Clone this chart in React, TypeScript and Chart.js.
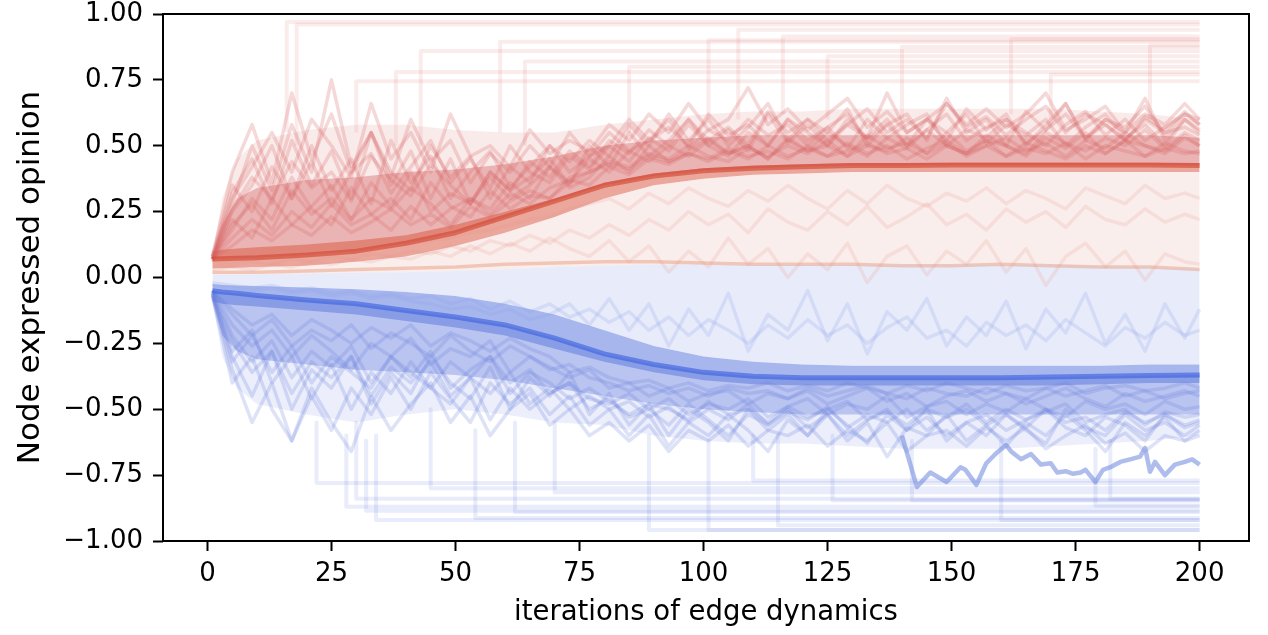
import React, { useEffect, useRef } from "react";
import { Chart, registerables } from "chart.js";
Chart.register(...registerables);

// ---------- axis ticks ----------
const xTicks = [0, 25, 50, 75, 100, 125, 150, 175, 200];
const yTicks = [-1, -0.75, -0.5, -0.25, 0, 0.25, 0.5, 0.75, 1];

// ---------- envelopes of the line bundles (iteration grid) ----------
const envX = [1, 3, 6, 10, 20, 30, 40, 50, 60, 70, 80, 90, 100, 110, 120, 130, 140, 150, 160, 170, 180, 190, 200];
const redOuterTop = [0.08, 0.3, 0.45, 0.52, 0.56, 0.58, 0.58, 0.56, 0.55, 0.55, 0.58, 0.6, 0.62, 0.63, 0.63, 0.64, 0.64, 0.64, 0.64, 0.64, 0.63, 0.62, 0.6];
const redInnerTop = [0.08, 0.2, 0.3, 0.34, 0.37, 0.38, 0.4, 0.41, 0.43, 0.46, 0.5, 0.52, 0.53, 0.54, 0.54, 0.54, 0.54, 0.54, 0.54, 0.54, 0.54, 0.54, 0.53];
const redBandTop = [0.1, 0.105, 0.11, 0.115, 0.125, 0.14, 0.16, 0.2, 0.25, 0.3, 0.36, 0.395, 0.415, 0.425, 0.43, 0.435, 0.435, 0.435, 0.435, 0.435, 0.435, 0.435, 0.435];
const redCore = [0.07, 0.071, 0.073, 0.075, 0.085, 0.1, 0.13, 0.17, 0.23, 0.29, 0.35, 0.385, 0.405, 0.415, 0.42, 0.425, 0.425, 0.427, 0.427, 0.427, 0.427, 0.427, 0.425];
const redBandBot = [0.035, 0.035, 0.037, 0.04, 0.045, 0.06, 0.08, 0.12, 0.17, 0.23, 0.3, 0.35, 0.375, 0.39, 0.395, 0.4, 0.4, 0.4, 0.4, 0.4, 0.4, 0.4, 0.4];
const midLine = [0.01, 0.01, 0.01, 0.012, 0.015, 0.018, 0.02, 0.025, 0.03, 0.04, 0.045, 0.05, 0.05, 0.05, 0.05, 0.05, 0.05, 0.05, 0.05, 0.05, 0.045, 0.04, 0.035];
const blueBandTop = [-0.025, -0.028, -0.03, -0.032, -0.038, -0.045, -0.055, -0.07, -0.1, -0.14, -0.2, -0.26, -0.3, -0.32, -0.33, -0.335, -0.335, -0.335, -0.335, -0.335, -0.335, -0.33, -0.33];
const blueCore = [-0.05, -0.055, -0.06, -0.068, -0.085, -0.1, -0.125, -0.15, -0.18, -0.23, -0.29, -0.33, -0.36, -0.375, -0.38, -0.38, -0.38, -0.38, -0.38, -0.378, -0.375, -0.372, -0.37];
const blueBandBot = [-0.09, -0.1, -0.105, -0.11, -0.125, -0.14, -0.165, -0.19, -0.22, -0.27, -0.32, -0.36, -0.39, -0.405, -0.41, -0.41, -0.41, -0.41, -0.41, -0.41, -0.405, -0.4, -0.4];
const blueInnerBot = [-0.09, -0.22, -0.28, -0.31, -0.33, -0.35, -0.36, -0.37, -0.39, -0.42, -0.45, -0.48, -0.5, -0.51, -0.52, -0.52, -0.52, -0.52, -0.52, -0.52, -0.52, -0.52, -0.52];
const blueOuterBot = [-0.09, -0.3, -0.42, -0.48, -0.52, -0.55, -0.52, -0.5, -0.52, -0.55, -0.56, -0.6, -0.62, -0.63, -0.63, -0.64, -0.65, -0.65, -0.65, -0.64, -0.63, -0.62, -0.6];
const neutralLine = [0.02, 0.02, 0.02, 0.02, 0.025, 0.03, 0.035, 0.04, 0.05, 0.055, 0.06, 0.06, 0.055, 0.05, 0.05, 0.05, 0.045, 0.045, 0.05, 0.045, 0.04, 0.04, 0.03];

// ---------- individual node trajectories (sampled every 4 iterations) ----------
const X4 = [1, 5, 9, 13, 17, 21, 25, 29, 33, 37, 41, 45, 49, 53, 57, 61, 65, 69, 73, 77, 81, 85, 89, 93, 97, 101, 105, 109, 113, 117, 121, 125, 129, 133, 137, 141, 145, 149, 153, 157, 161, 165, 169, 173, 177, 181, 185, 189, 193, 197, 200];

const red1 = [0.07, 0.32, 0.45, 0.28, 0.52, 0.35, 0.48, 0.3, 0.55, 0.4, 0.33, 0.5, 0.38, 0.46, 0.3, 0.42, 0.36, 0.5, 0.44, 0.52, 0.46, 0.58, 0.5, 0.62, 0.52, 0.6, 0.5, 0.57, 0.66, 0.52, 0.6, 0.55, 0.64, 0.5, 0.58, 0.62, 0.52, 0.68, 0.55, 0.6, 0.5, 0.63, 0.56, 0.66, 0.52, 0.6, 0.57, 0.65, 0.54, 0.62, 0.58];
const red2 = [0.07, 0.2, 0.28, 0.18, 0.33, 0.24, 0.3, 0.22, 0.36, 0.27, 0.4, 0.25, 0.32, 0.28, 0.38, 0.3, 0.35, 0.42, 0.36, 0.45, 0.4, 0.48, 0.44, 0.5, 0.46, 0.52, 0.47, 0.5, 0.45, 0.53, 0.48, 0.5, 0.46, 0.54, 0.49, 0.51, 0.47, 0.55, 0.48, 0.52, 0.5, 0.46, 0.53, 0.49, 0.55, 0.47, 0.52, 0.5, 0.48, 0.54, 0.5];
const red3 = [0.08, 0.4, 0.58, 0.36, 0.7, 0.45, 0.62, 0.4, 0.55, 0.35, 0.48, 0.3, 0.45, 0.28, 0.4, 0.33, 0.38, 0.45, 0.35, 0.5, 0.42, 0.55, 0.46, 0.52, 0.6, 0.5, 0.56, 0.48, 0.62, 0.51, 0.58, 0.5, 0.6, 0.53, 0.7, 0.55, 0.6, 0.52, 0.64, 0.56, 0.62, 0.5, 0.58, 0.66, 0.53, 0.6, 0.55, 0.68, 0.52, 0.6, 0.56];
const red4 = [0.07, 0.15, 0.22, 0.16, 0.25, 0.19, 0.28, 0.2, 0.24, 0.18, 0.27, 0.2, 0.26, 0.3, 0.24, 0.32, 0.28, 0.34, 0.37, 0.35, 0.42, 0.39, 0.45, 0.43, 0.47, 0.44, 0.48, 0.45, 0.5, 0.46, 0.49, 0.46, 0.51, 0.47, 0.5, 0.45, 0.49, 0.52, 0.47, 0.5, 0.46, 0.51, 0.48, 0.45, 0.5, 0.47, 0.52, 0.46, 0.49, 0.47, 0.48];
const red5 = [0.06, 0.25, 0.35, 0.5, 0.3, 0.44, 0.27, 0.4, 0.47, 0.32, 0.42, 0.52, 0.36, 0.45, 0.34, 0.5, 0.4, 0.36, 0.46, 0.41, 0.5, 0.44, 0.53, 0.48, 0.58, 0.5, 0.46, 0.55, 0.5, 0.6, 0.52, 0.57, 0.49, 0.6, 0.53, 0.58, 0.62, 0.5, 0.56, 0.53, 0.6, 0.55, 0.5, 0.58, 0.63, 0.54, 0.6, 0.52, 0.57, 0.62, 0.6];
const red6 = [0.07, 0.18, 0.3, 0.22, 0.38, 0.26, 0.2, 0.34, 0.24, 0.3, 0.22, 0.36, 0.27, 0.23, 0.33, 0.26, 0.31, 0.3, 0.38, 0.4, 0.44, 0.42, 0.47, 0.45, 0.5, 0.46, 0.44, 0.49, 0.46, 0.5, 0.47, 0.52, 0.46, 0.5, 0.48, 0.53, 0.47, 0.51, 0.46, 0.5, 0.53, 0.48, 0.51, 0.46, 0.52, 0.49, 0.55, 0.5, 0.47, 0.53, 0.5];
const red7 = [0.08, 0.3, 0.42, 0.55, 0.4, 0.6, 0.5, 0.38, 0.66, 0.45, 0.55, 0.4, 0.62, 0.46, 0.5, 0.42, 0.56, 0.47, 0.52, 0.48, 0.58, 0.52, 0.62, 0.55, 0.66, 0.56, 0.6, 0.72, 0.58, 0.64, 0.56, 0.62, 0.68, 0.57, 0.63, 0.55, 0.6, 0.66, 0.58, 0.64, 0.57, 0.62, 0.7, 0.56, 0.6, 0.65, 0.55, 0.62, 0.58, 0.66, 0.6];
const red8 = [0.07, 0.22, 0.15, 0.3, 0.2, 0.27, 0.35, 0.22, 0.3, 0.26, 0.34, 0.28, 0.2, 0.3, 0.26, 0.36, 0.3, 0.42, 0.34, 0.38, 0.46, 0.4, 0.5, 0.44, 0.48, 0.53, 0.47, 0.5, 0.45, 0.52, 0.48, 0.55, 0.5, 0.46, 0.53, 0.49, 0.56, 0.5, 0.47, 0.54, 0.5, 0.47, 0.55, 0.51, 0.48, 0.53, 0.5, 0.56, 0.49, 0.55, 0.52];
const red9 = [0.07, 0.26, 0.38, 0.3, 0.44, 0.34, 0.4, 0.29, 0.46, 0.37, 0.31, 0.43, 0.35, 0.28, 0.4, 0.33, 0.44, 0.38, 0.48, 0.42, 0.52, 0.47, 0.56, 0.5, 0.6, 0.52, 0.57, 0.5, 0.63, 0.55, 0.6, 0.52, 0.58, 0.64, 0.55, 0.6, 0.53, 0.66, 0.57, 0.61, 0.54, 0.6, 0.65, 0.55, 0.62, 0.58, 0.52, 0.61, 0.56, 0.63, 0.58];
const red10 = [0.07, 0.12, 0.18, 0.14, 0.2, 0.16, 0.23, 0.17, 0.21, 0.26, 0.2, 0.24, 0.19, 0.27, 0.23, 0.29, 0.33, 0.3, 0.36, 0.4, 0.43, 0.41, 0.46, 0.44, 0.47, 0.45, 0.49, 0.46, 0.48, 0.45, 0.5, 0.46, 0.48, 0.51, 0.47, 0.49, 0.45, 0.5, 0.47, 0.52, 0.46, 0.49, 0.47, 0.51, 0.45, 0.5, 0.48, 0.46, 0.51, 0.48, 0.47];
const red11 = [0.08, 0.35, 0.25, 0.42, 0.3, 0.5, 0.33, 0.45, 0.28, 0.52, 0.36, 0.46, 0.3, 0.4, 0.48, 0.34, 0.42, 0.5, 0.4, 0.46, 0.55, 0.48, 0.52, 0.6, 0.49, 0.56, 0.52, 0.6, 0.54, 0.58, 0.5, 0.57, 0.62, 0.52, 0.58, 0.5, 0.6, 0.55, 0.62, 0.51, 0.58, 0.54, 0.6, 0.5, 0.57, 0.62, 0.53, 0.58, 0.5, 0.6, 0.55];
const red12 = [0.07, 0.28, 0.5, 0.33, 0.58, 0.4, 0.75, 0.42, 0.55, 0.38, 0.6, 0.44, 0.52, 0.36, 0.47, 0.4, 0.5, 0.42, 0.55, 0.46, 0.5, 0.6, 0.52, 0.57, 0.5, 0.62, 0.54, 0.58, 0.5, 0.6, 0.55, 0.5, 0.58, 0.53, 0.6, 0.5, 0.56, 0.62, 0.52, 0.57, 0.6, 0.51, 0.56, 0.62, 0.53, 0.58, 0.52, 0.6, 0.55, 0.57, 0.54];

const blue1 = [-0.06, -0.3, -0.45, -0.28, -0.5, -0.35, -0.42, -0.3, -0.48, -0.36, -0.44, -0.3, -0.4, -0.46, -0.34, -0.5, -0.38, -0.45, -0.36, -0.52, -0.44, -0.56, -0.48, -0.6, -0.5, -0.55, -0.62, -0.5, -0.58, -0.52, -0.6, -0.5, -0.56, -0.63, -0.52, -0.58, -0.5, -0.62, -0.55, -0.6, -0.52, -0.58, -0.63, -0.5, -0.57, -0.6, -0.52, -0.58, -0.55, -0.6, -0.56];
const blue2 = [-0.05, -0.18, -0.26, -0.2, -0.3, -0.22, -0.28, -0.35, -0.25, -0.3, -0.23, -0.33, -0.27, -0.3, -0.24, -0.36, -0.3, -0.34, -0.38, -0.35, -0.42, -0.4, -0.45, -0.42, -0.47, -0.44, -0.43, -0.48, -0.44, -0.46, -0.43, -0.48, -0.45, -0.42, -0.47, -0.44, -0.49, -0.45, -0.43, -0.47, -0.44, -0.48, -0.45, -0.42, -0.46, -0.49, -0.44, -0.47, -0.45, -0.43, -0.45];
const blue3 = [-0.07, -0.35, -0.55, -0.4, -0.62, -0.45, -0.58, -0.42, -0.52, -0.38, -0.5, -0.36, -0.46, -0.55, -0.4, -0.48, -0.42, -0.52, -0.45, -0.56, -0.5, -0.6, -0.52, -0.64, -0.55, -0.6, -0.52, -0.58, -0.66, -0.54, -0.6, -0.52, -0.62, -0.55, -0.68, -0.57, -0.6, -0.52, -0.62, -0.56, -0.64, -0.55, -0.6, -0.52, -0.58, -0.66, -0.55, -0.6, -0.53, -0.62, -0.58];
const blue4 = [-0.05, -0.22, -0.32, -0.24, -0.38, -0.28, -0.34, -0.26, -0.4, -0.3, -0.36, -0.42, -0.32, -0.38, -0.3, -0.4, -0.35, -0.44, -0.4, -0.46, -0.48, -0.44, -0.5, -0.46, -0.52, -0.48, -0.5, -0.46, -0.53, -0.49, -0.46, -0.52, -0.48, -0.5, -0.45, -0.53, -0.49, -0.47, -0.52, -0.48, -0.51, -0.46, -0.5, -0.53, -0.47, -0.5, -0.48, -0.52, -0.47, -0.5, -0.49];
const blue5 = [-0.06, -0.28, -0.2, -0.4, -0.3, -0.46, -0.33, -0.5, -0.36, -0.44, -0.32, -0.42, -0.48, -0.38, -0.54, -0.42, -0.5, -0.44, -0.4, -0.5, -0.46, -0.53, -0.5, -0.56, -0.48, -0.54, -0.6, -0.52, -0.56, -0.5, -0.57, -0.52, -0.6, -0.54, -0.5, -0.58, -0.53, -0.6, -0.55, -0.52, -0.58, -0.54, -0.5, -0.57, -0.6, -0.53, -0.56, -0.62, -0.52, -0.57, -0.55];
const blue6 = [-0.05, -0.14, -0.22, -0.16, -0.26, -0.2, -0.24, -0.18, -0.27, -0.21, -0.25, -0.3, -0.22, -0.28, -0.32, -0.26, -0.3, -0.35, -0.33, -0.38, -0.4, -0.43, -0.41, -0.44, -0.42, -0.45, -0.42, -0.44, -0.43, -0.46, -0.42, -0.45, -0.43, -0.41, -0.44, -0.46, -0.42, -0.44, -0.45, -0.42, -0.44, -0.46, -0.42, -0.45, -0.43, -0.41, -0.45, -0.43, -0.46, -0.44, -0.43];
const blue7 = [-0.06, -0.24, -0.36, -0.28, -0.44, -0.32, -0.38, -0.3, -0.45, -0.34, -0.4, -0.32, -0.45, -0.38, -0.44, -0.36, -0.48, -0.42, -0.5, -0.45, -0.5, -0.47, -0.53, -0.49, -0.55, -0.5, -0.54, -0.48, -0.56, -0.51, -0.54, -0.49, -0.57, -0.52, -0.55, -0.5, -0.58, -0.53, -0.5, -0.56, -0.52, -0.57, -0.5, -0.55, -0.53, -0.58, -0.51, -0.55, -0.52, -0.56, -0.54];
const blue8 = [-0.07, -0.4, -0.3, -0.5, -0.62, -0.42, -0.55, -0.66, -0.45, -0.58, -0.48, -0.4, -0.55, -0.45, -0.6, -0.5, -0.44, -0.56, -0.5, -0.6, -0.55, -0.62, -0.56, -0.66, -0.58, -0.62, -0.56, -0.64, -0.58, -0.6, -0.56, -0.64, -0.58, -0.62, -0.55, -0.66, -0.6, -0.58, -0.64, -0.57, -0.62, -0.57, -0.65, -0.6, -0.56, -0.63, -0.59, -0.66, -0.6, -0.62, -0.6];
const blue9 = [-0.05, -0.12, -0.18, -0.14, -0.22, -0.16, -0.2, -0.25, -0.19, -0.23, -0.18, -0.26, -0.21, -0.24, -0.28, -0.23, -0.27, -0.3, -0.36, -0.34, -0.38, -0.4, -0.39, -0.42, -0.4, -0.43, -0.41, -0.42, -0.4, -0.43, -0.41, -0.43, -0.4, -0.42, -0.44, -0.41, -0.43, -0.4, -0.42, -0.44, -0.41, -0.43, -0.42, -0.4, -0.44, -0.42, -0.41, -0.43, -0.42, -0.4, -0.42];
const blue10 = [-0.06, -0.32, -0.22, -0.36, -0.26, -0.4, -0.3, -0.36, -0.42, -0.3, -0.38, -0.28, -0.42, -0.35, -0.3, -0.44, -0.36, -0.4, -0.46, -0.42, -0.47, -0.52, -0.48, -0.5, -0.54, -0.47, -0.52, -0.5, -0.55, -0.49, -0.53, -0.5, -0.47, -0.54, -0.51, -0.56, -0.5, -0.53, -0.48, -0.55, -0.5, -0.54, -0.51, -0.48, -0.55, -0.52, -0.5, -0.56, -0.51, -0.53, -0.52];

const mid1 = [0.04, 0.05, 0.06, 0.05, 0.07, 0.06, 0.08, 0.07, 0.09, 0.08, 0.1, 0.09, 0.12, 0.1, 0.14, 0.12, 0.16, 0.13, 0.18, 0.15, 0.2, 0.16, 0.22, 0.18, 0.25, 0.2, 0.24, 0.17, 0.26, 0.21, 0.18, 0.25, 0.2, 0.27, 0.19, 0.23, 0.28, 0.2, 0.24, 0.18, 0.26, 0.21, 0.25, 0.19, 0.27, 0.22, 0.2, 0.26, 0.21, 0.24, 0.22];
const mid2 = [-0.02, -0.03, -0.04, -0.03, -0.05, -0.04, -0.06, -0.05, -0.07, -0.06, -0.08, -0.07, -0.1, -0.08, -0.12, -0.09, -0.13, -0.1, -0.15, -0.12, -0.17, -0.13, -0.2, -0.15, -0.22, -0.16, -0.2, -0.25, -0.18, -0.23, -0.16, -0.22, -0.18, -0.25, -0.19, -0.15, -0.23, -0.2, -0.26, -0.17, -0.22, -0.18, -0.24, -0.16, -0.21, -0.26, -0.19, -0.23, -0.17, -0.22, -0.2];
const mid3 = [0.03, 0.04, 0.03, 0.05, 0.04, 0.06, 0.05, 0.07, 0.06, 0.08, 0.07, 0.1, 0.08, 0.12, 0.09, 0.13, 0.1, 0.15, 0.11, 0.08, 0.14, 0.06, 0.12, 0.02, 0.1, 0.04, 0.15, 0.05, 0.11, 0.0, 0.09, 0.03, 0.13, -0.02, 0.08, 0.12, 0.01, 0.1, 0.05, 0.14, 0.02, 0.11, -0.03, 0.08, 0.13, 0.04, 0.1, -0.01, 0.09, 0.06, 0.05];
const mid4 = [-0.03, -0.04, -0.05, -0.04, -0.06, -0.05, -0.07, -0.06, -0.08, -0.07, -0.09, -0.1, -0.12, -0.11, -0.14, -0.12, -0.16, -0.14, -0.1, -0.18, -0.08, -0.2, -0.1, -0.26, -0.12, -0.22, -0.06, -0.28, -0.14, -0.2, -0.05, -0.24, -0.1, -0.29, -0.13, -0.2, -0.08, -0.26, -0.15, -0.22, -0.09, -0.27, -0.12, -0.21, -0.06, -0.25, -0.14, -0.28, -0.1, -0.23, -0.12];
const mid5 = [0.05, 0.06, 0.07, 0.08, 0.08, 0.09, 0.1, 0.1, 0.11, 0.12, 0.13, 0.14, 0.15, 0.17, 0.18, 0.2, 0.22, 0.23, 0.26, 0.28, 0.3, 0.26, 0.32, 0.28, 0.34, 0.3, 0.27, 0.33, 0.29, 0.35, 0.3, 0.26, 0.33, 0.28, 0.35, 0.3, 0.27, 0.32, 0.29, 0.34, 0.28, 0.33, 0.3, 0.26, 0.34, 0.31, 0.28, 0.35, 0.3, 0.32, 0.3];

// ---------- nodes that jump to an extreme and stay there ----------
const redStuckStart = [16, 18, 43, 30, 38, 59, 64, 85, 101, 107, 116, 125, 140, 162, 170, 190];
const redStuckPre = [0.55, 0.5, 0.5, 0.55, 0.5, 0.55, 0.5, 0.55, 0.6, 0.6, 0.62, 0.6, 0.6, 0.62, 0.6, 0.6];
const redStuckLevel = [0.97, 0.96, 0.86, 0.745, 0.78, 0.895, 0.82, 0.8, 0.9, 0.94, 0.915, 0.84, 0.875, 0.905, 0.77, 0.88];
const blueStuckStart = [22, 28, 30, 32, 34, 45, 54, 62, 70, 89, 101, 110, 115, 126, 142, 160, 179, 182];
const blueStuckPre = [-0.55, -0.6, -0.55, -0.62, -0.6, -0.5, -0.58, -0.55, -0.55, -0.6, -0.62, -0.6, -0.6, -0.6, -0.62, -0.62, -0.65, -0.62];
const blueStuckLevel = [-0.78, -0.87, -0.84, -0.885, -0.92, -0.8, -0.913, -0.89, -0.815, -0.958, -0.958, -0.77, -0.94, -0.845, -0.845, -0.92, -0.865, -0.84];

// ---------- the visible lone blue trajectory near -0.72 ----------
const blueLoneX = [140, 143, 145.7, 149, 151.8, 152.8, 155, 157, 159, 161, 162, 164, 166, 168, 170, 171.3, 173, 174.5, 176, 177, 179, 180.5, 182, 184, 186, 188, 189, 190, 191, 193, 195, 197, 198.5, 200];
const blueLoneY = [-0.6, -0.795, -0.74, -0.776, -0.72, -0.73, -0.787, -0.705, -0.667, -0.636, -0.66, -0.69, -0.67, -0.71, -0.705, -0.74, -0.735, -0.745, -0.74, -0.73, -0.776, -0.73, -0.72, -0.7, -0.69, -0.68, -0.647, -0.737, -0.7, -0.75, -0.71, -0.7, -0.69, -0.71];

const FONT = "'DejaVu Sans', sans-serif";

const pts = (xs: number[], ys: number[]) => ys.map((y, i) => ({ x: xs[i], y }));

const framePlugin = {
  id: "frame",
  afterDraw(chart: any) {
    const { ctx, chartArea: a } = chart;
    ctx.save();
    ctx.strokeStyle = "#000";
    ctx.lineWidth = 2;
    ctx.strokeRect(a.left, a.top, a.right - a.left, a.bottom - a.top);
    ctx.restore();
  },
};

export default function App() {
  const ref = useRef<HTMLCanvasElement>(null);

  useEffect(() => {
    if (!ref.current) return;
    const base = { pointRadius: 0, tension: 0, borderJoinStyle: "round" as const };
    const env = (ys: number[], fill: any, bg: string) => ({
      ...base,
      data: pts(envX, ys),
      borderWidth: 0,
      borderColor: "rgba(0,0,0,0)",
      backgroundColor: bg,
      fill,
    });
    const line = (xs: number[], ys: number[], color: string, w: number) => ({
      ...base,
      data: pts(xs, ys),
      borderColor: color,
      borderWidth: w,
      fill: false,
    });
    const stuck = (x0: number, pre: number, lvl: number, color: string) => ({
      ...base,
      data: [
        { x: x0, y: pre },
        { x: x0, y: lvl },
        { x: 200, y: lvl },
      ],
      borderColor: color,
      borderWidth: 4,
      fill: false,
    });

    // envelope datasets: indices 0..10 (fill targets refer to these)
    const datasets: any[] = [
      env(redOuterTop, { target: 2 }, "rgba(222,120,120,0.15)"), // 0
      env(redInnerTop, { target: 2 }, "rgba(210,90,90,0.38)"), // 1
      env(redCore, false, "rgba(0,0,0,0)"), // 2
      env(redBandTop, { target: 4 }, "rgba(218,95,72,0.55)"), // 3
      env(redBandBot, { target: 5 }, "rgba(232,168,162,0.2)"), // 4
      env(midLine, { target: 6 }, "rgba(165,180,236,0.26)"), // 5
      env(blueBandTop, { target: 7 }, "rgba(80,112,222,0.5)"), // 6
      env(blueBandBot, false, "rgba(0,0,0,0)"), // 7
      env(blueInnerBot, { target: 10 }, "rgba(95,120,222,0.36)"), // 8
      env(blueOuterBot, { target: 10 }, "rgba(120,140,225,0.14)"), // 9
      env(blueCore, false, "rgba(0,0,0,0)"), // 10
    ];

    redStuckStart.forEach((x0, i) =>
      datasets.push(stuck(x0, redStuckPre[i], redStuckLevel[i], "rgba(220,100,100,0.12)"))
    );
    blueStuckStart.forEach((x0, i) =>
      datasets.push(stuck(x0, blueStuckPre[i], blueStuckLevel[i], "rgba(110,130,222,0.15)"))
    );

    [mid1, mid3, mid5].forEach((ys) => datasets.push(line(X4, ys, "rgba(228,150,140,0.2)", 3.5)));
    [mid2, mid4].forEach((ys) => datasets.push(line(X4, ys, "rgba(140,160,232,0.22)", 3.5)));
    [red1, red2, red3, red4, red5, red6, red7, red8, red9, red10, red11, red12].forEach((ys) =>
      datasets.push(line(X4, ys, "rgba(212,95,95,0.24)", 3.5))
    );
    [blue1, blue2, blue3, blue4, blue5, blue6, blue7, blue8, blue9, blue10].forEach((ys) =>
      datasets.push(line(X4, ys, "rgba(100,122,218,0.22)", 3.5))
    );
    datasets.push(line(envX, neutralLine, "rgba(232,150,120,0.45)", 3.5));
    datasets.push(line(envX, redCore, "rgba(210,72,52,0.65)", 5));
    datasets.push(line(envX, blueCore, "rgba(65,100,222,0.65)", 5));
    datasets.push(line(blueLoneX, blueLoneY, "rgba(110,135,222,0.55)", 4.5));

    const N = datasets.length;
    datasets.forEach((d, i) => (d.order = N - i));

    const tickFont = { family: FONT, size: 26 };
    const chart = new Chart(ref.current, {
      type: "line",
      data: { datasets },
      plugins: [framePlugin],
      options: {
        animation: false,
        responsive: false,
        events: [],
        layout: { padding: { top: 14, right: 19, left: 0, bottom: 0 } },
        plugins: { legend: { display: false }, tooltip: { enabled: false } },
        scales: {
          x: {
            type: "linear",
            min: -8.95,
            max: 209.95,
            border: { display: false },
            grid: { drawOnChartArea: false, drawTicks: true, tickLength: 10, tickWidth: 2, tickColor: "#000" },
            ticks: { font: tickFont, color: "#000", padding: 8, maxRotation: 0, callback: (v: any) => String(v) },
            afterBuildTicks: (s: any) => {
              s.ticks = xTicks.map((v) => ({ value: v }));
            },
            afterFit: (s: any) => {
              s.height = 94;
              s.paddingLeft = 0;
              s.paddingRight = 0;
            },
            title: {
              display: true,
              text: "iterations of edge dynamics",
              color: "#000",
              font: { family: FONT, size: 27.5, lineHeight: 1.2 },
              padding: { top: 0, bottom: 6 },
            },
          },
          y: {
            type: "linear",
            min: -1,
            max: 1,
            border: { display: false },
            grid: { drawOnChartArea: false, drawTicks: true, tickLength: 10, tickWidth: 2, tickColor: "#000" },
            ticks: {
              font: tickFont,
              color: "#000",
              padding: 10,
              callback: (v: any) => (v < 0 ? "\u2212" : "") + Math.abs(Number(v)).toFixed(2),
            },
            afterBuildTicks: (s: any) => {
              s.ticks = yTicks.map((v) => ({ value: v }));
            },
            afterFit: (s: any) => {
              s.width = 163;
              s.paddingTop = 0;
              s.paddingBottom = 0;
            },
            title: {
              display: true,
              text: "Node expressed opinion",
              color: "#000",
              font: { family: FONT, size: 31, lineHeight: 1.2 },
              padding: { top: 12, bottom: 0 },
            },
          },
        },
      },
    });
    return () => chart.destroy();
  }, []);

  return (
    <div style={{ position: "fixed", left: 0, top: 0, width: 1268, height: 635, background: "#fff" }}>
      <canvas ref={ref} width={1268} height={635} style={{ display: "block" }} />
    </div>
  );
}
